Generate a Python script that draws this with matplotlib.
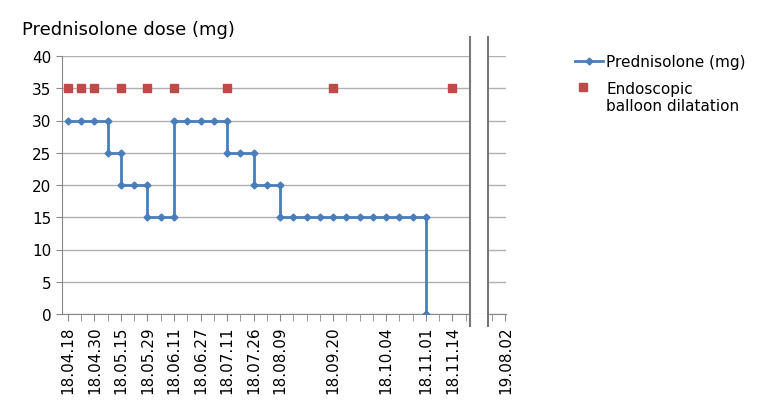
import matplotlib
matplotlib.use("Agg")
import matplotlib.pyplot as plt
from matplotlib.lines import Line2D

tick_idx = [0, 2, 4, 6, 8, 10, 12, 14, 16, 20, 24, 27, 29, 33]
tick_labels = ["18.04.18", "18.04.30", "18.05.15", "18.05.29", "18.06.11", "18.06.27",
               "18.07.11", "18.07.26", "18.08.09", "18.09.20", "18.10.04", "18.11.01",
               "18.11.14", "19.08.02"]
pred_x = [0, 1, 2, 3, 3, 4, 4, 5, 6, 6, 7, 8, 8, 9, 10, 11, 12, 12, 13, 14, 14, 15, 16, 16,
          17, 18, 19, 20, 21, 22, 23, 24, 25, 26, 27, 27]
pred_y = [30, 30, 30, 30, 25, 25, 20, 20, 20, 15, 15, 15, 30, 30, 30, 30, 30, 25, 25, 25, 20, 20, 20, 15,
          15, 15, 15, 15, 15, 15, 15, 15, 15, 15, 15, 0]
ebd_x = [0, 1, 2, 4, 6, 8, 12, 20, 29]
ebd_y = [35] * len(ebd_x)

W, H = 770, 414
fig = plt.figure(figsize=(W / 100, H / 100), dpi=100)
ax = fig.add_axes([62 / W, 1 - 315 / H, (506 - 62) / W, (315 - 57) / H])
blue = "#4a7ebb"
red = "#be4b48"
ax.plot(pred_x, pred_y, color=blue, lw=2, marker="D", ms=3.5, zorder=3)
ax.plot(ebd_x, ebd_y, ls="none", marker="s", ms=6, color=red, zorder=3)
ax.set_xlim(-0.45, 33.05)
ax.set_ylim(0, 40)
ax.set_yticks(range(0, 41, 5))
ax.set_xticks(range(0, 34), minor=True)
ax.set_xticks(tick_idx)
ax.set_xticklabels(tick_labels, rotation=90, fontsize=11)
ax.tick_params(axis="x", which="both", length=5, color="#888888")
ax.tick_params(axis="y", labelsize=11, length=4, color="#888888")
ax.grid(axis="y", color="#b0b0b0", lw=1)
ax.set_axisbelow(True)
for s in ["top", "right"]:
    ax.spines[s].set_visible(False)
ax.spines["left"].set_color("#888888")
ax.spines["bottom"].set_color("#888888")
# axis break
x1, x2 = 30.3, 31.7
ax.axvspan(x1, x2, color="white", zorder=2.5)
for xb in (x1, x2):
    ax.plot([xb, xb], [-1.8, 43], color="#777777", lw=1.5, clip_on=False, zorder=4)
ax.add_patch(plt.Rectangle((x1, -2.5), x2 - x1, 2.5, color="white", clip_on=False, zorder=3.5))

fig.text(22 / W, 1 - 30 / H, "Prednisolone dose (mg)", fontsize=13, va="center")
fig.add_artist(Line2D([575 / W, 603 / W], [1 - 62 / H] * 2, color=blue, lw=2))
fig.add_artist(Line2D([589 / W], [1 - 62 / H], color=blue, marker="D", ms=3.5))
fig.text(606 / W, 1 - 62 / H, "Prednisolone (mg)", fontsize=11, va="center")
fig.add_artist(Line2D([583 / W], [1 - 88 / H], color=red, marker="s", ms=6, ls="none"))
fig.text(606 / W, 1 - 98 / H, "Endoscopic\nballoon dilatation", fontsize=11, va="center",
         linespacing=1.1)
fig.savefig("out.png", dpi=100)
